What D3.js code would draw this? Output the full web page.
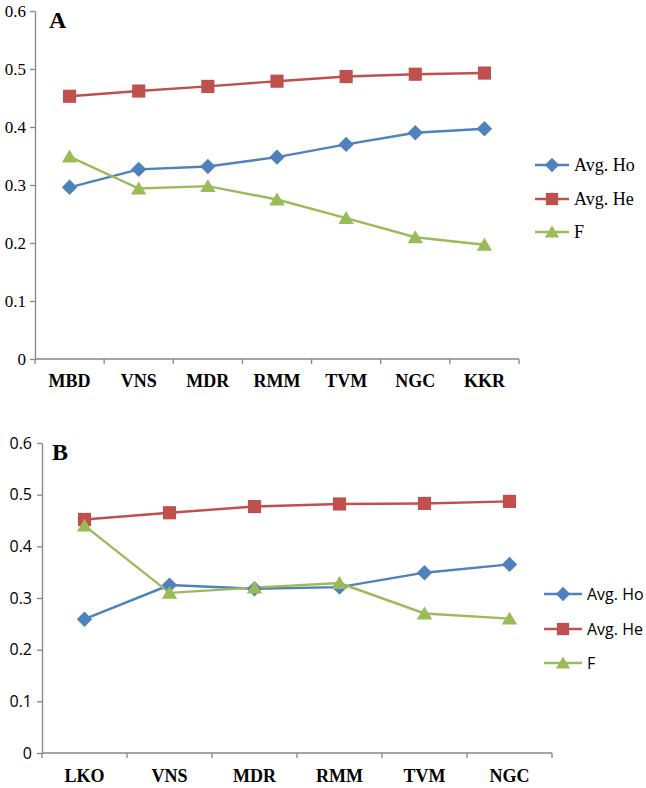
<!DOCTYPE html>
<html>
<head>
<meta charset="utf-8">
<script src="https://cdn.jsdelivr.net/npm/d3@7"></script>
<style>
  html, body { margin: 0; padding: 0; background: #fff; }
  svg { display: block; }
</style>
</head>
<body>
<svg id="chart" width="646" height="788"></svg>
<script>
// ---------- DATA ----------
const seriesNames = ["Avg. Ho", "Avg. He", "F"];
const yTicks = [0, 0.1, 0.2, 0.3, 0.4, 0.5, 0.6];

const catsA = ["MBD", "VNS", "MDR", "RMM", "TVM", "NGC", "KKR"];
const hoA = [0.296, 0.327, 0.332, 0.348, 0.370, 0.390, 0.397];
const heA = [0.453, 0.462, 0.470, 0.479, 0.487, 0.491, 0.493];
const fA  = [0.349, 0.294, 0.298, 0.275, 0.243, 0.210, 0.197];

const catsB = ["LKO", "VNS", "MDR", "RMM", "TVM", "NGC"];
const hoB = [0.259, 0.325, 0.318, 0.321, 0.349, 0.365];
const heB = [0.452, 0.465, 0.477, 0.482, 0.483, 0.487];
const fB  = [0.440, 0.310, 0.320, 0.329, 0.270, 0.260];

// ---------- STYLE ----------
const colors = ["#4F81BD", "#C0504D", "#9BBB59"];
const axisColor = "#868686";
const svg = d3.select("#chart");

function markerPath(kind, s) {
  if (kind === 0) { const r = s * 0.55; return `M0,${-r}L${r},0L0,${r}L${-r},0Z`; }
  if (kind === 1) { const h = s * 0.47; return `M${-h},${-h}H${h}V${h}H${-h}Z`; }
  const w = s * 0.55, t = s * 0.5;
  return `M0,${-t}L${w},${t * 0.85}L${-w},${t * 0.85}Z`;
}

function drawPanel(cfg) {
  const g = svg.append("g");
  const x = d3.scaleBand().domain(cfg.cats).range([cfg.x0, cfg.x1]);
  const y = d3.scaleLinear().domain([0, 0.6]).range([cfg.yb, cfg.yt]);

  // y axis
  const yAxis = g.append("g")
    .attr("transform", `translate(${cfg.x0},0)`)
    .call(d3.axisLeft(y).tickValues(yTicks).tickSize(5).tickSizeOuter(0)
      .tickFormat(d => d === 0 ? "0" : d.toFixed(1)));
  yAxis.select(".domain").attr("stroke", axisColor).attr("stroke-width", 1.3);
  yAxis.selectAll(".tick line").attr("stroke", axisColor).attr("stroke-width", 1.3);
  yAxis.selectAll(".tick text")
    .attr("fill", "#000")
    .attr("x", -cfg.ytickGap)
    .style("font-family", cfg.yFont)
    .style("font-size", cfg.yFontSize + "px");

  // x axis with ticks at band boundaries
  const xa = g.append("g");
  xa.append("line")
    .attr("x1", cfg.x0).attr("x2", cfg.x1)
    .attr("y1", y(0)).attr("y2", y(0))
    .attr("stroke", axisColor).attr("stroke-width", 1.3);
  const edges = cfg.cats.map(c => x(c)).concat([x(cfg.cats[cfg.cats.length - 1]) + x.bandwidth()]);
  xa.selectAll("line.tk").data(edges).join("line")
    .attr("class", "tk")
    .attr("x1", d => d).attr("x2", d => d)
    .attr("y1", y(0)).attr("y2", y(0) + 5)
    .attr("stroke", axisColor).attr("stroke-width", 1.3);
  xa.selectAll("text").data(cfg.cats).join("text")
    .attr("x", d => x(d) + x.bandwidth() / 2)
    .attr("y", cfg.labelY)
    .attr("text-anchor", "middle")
    .style("font-family", "'Liberation Serif', 'Times New Roman', serif")
    .style("font-weight", "bold")
    .style("font-size", "18px")
    .text(d => d);

  // panel letter
  g.append("text")
    .attr("x", cfg.letterX).attr("y", cfg.letterY)
    .style("font-family", "'Liberation Serif', 'Times New Roman', serif")
    .style("font-weight", "bold")
    .style("font-size", "24px")
    .text(cfg.letter);

  // series
  const line = d3.line()
    .x((d, i) => x(cfg.cats[i]) + x.bandwidth() / 2)
    .y(d => y(d));
  cfg.series.forEach((vals, si) => {
    g.append("path").datum(vals)
      .attr("d", line)
      .attr("fill", "none")
      .attr("stroke", colors[si])
      .attr("stroke-width", 2.4);
  });
  cfg.series.forEach((vals, si) => {
    g.selectAll(null).data(vals).join("path")
      .attr("transform", (d, i) => `translate(${x(cfg.cats[i]) + x.bandwidth() / 2},${y(d)})`)
      .attr("d", markerPath(si, 14))
      .attr("fill", colors[si]);
  });

  // legend
  const lg = g.append("g");
  seriesNames.forEach((name, si) => {
    const ly = cfg.legendY[si];
    lg.append("line")
      .attr("x1", cfg.legendX).attr("x2", cfg.legendX + cfg.legendLen)
      .attr("y1", ly).attr("y2", ly)
      .attr("stroke", colors[si]).attr("stroke-width", 2.4);
    lg.append("path")
      .attr("transform", `translate(${cfg.legendX + cfg.legendLen / 2},${ly})`)
      .attr("d", markerPath(si, 13))
      .attr("fill", colors[si]);
    lg.append("text")
      .attr("x", cfg.legendX + cfg.legendLen + 5)
      .attr("y", ly)
      .attr("dy", "0.35em")
      .style("font-family", cfg.legendFont)
      .style("font-size", cfg.legendFontSize + "px")
      .text(name);
  });
}

drawPanel({
  cats: catsA, series: [hoA, heA, fA],
  x0: 35, x1: 519, yt: 11, yb: 359,
  labelY: 387, letter: "A", letterX: 49, letterY: 28,
  yFont: "'Liberation Serif', 'Times New Roman', serif", yFontSize: 17, ytickGap: 9,
  legendX: 535, legendLen: 34, legendY: [165, 199, 232],
  legendFont: "'Liberation Serif', 'Times New Roman', serif", legendFontSize: 18
});

drawPanel({
  cats: catsB, series: [hoB, heB, fB],
  x0: 42, x1: 552, yt: 443, yb: 753,
  labelY: 782, letter: "B", letterX: 52, letterY: 460,
  yFont: "'Open Sans', 'DejaVu Sans', sans-serif", yFontSize: 16, ytickGap: 10,
  legendX: 544, legendLen: 38, legendY: [594, 629, 663],
  legendFont: "'Open Sans', 'DejaVu Sans', sans-serif", legendFontSize: 16
});
</script>
</body>
</html>
